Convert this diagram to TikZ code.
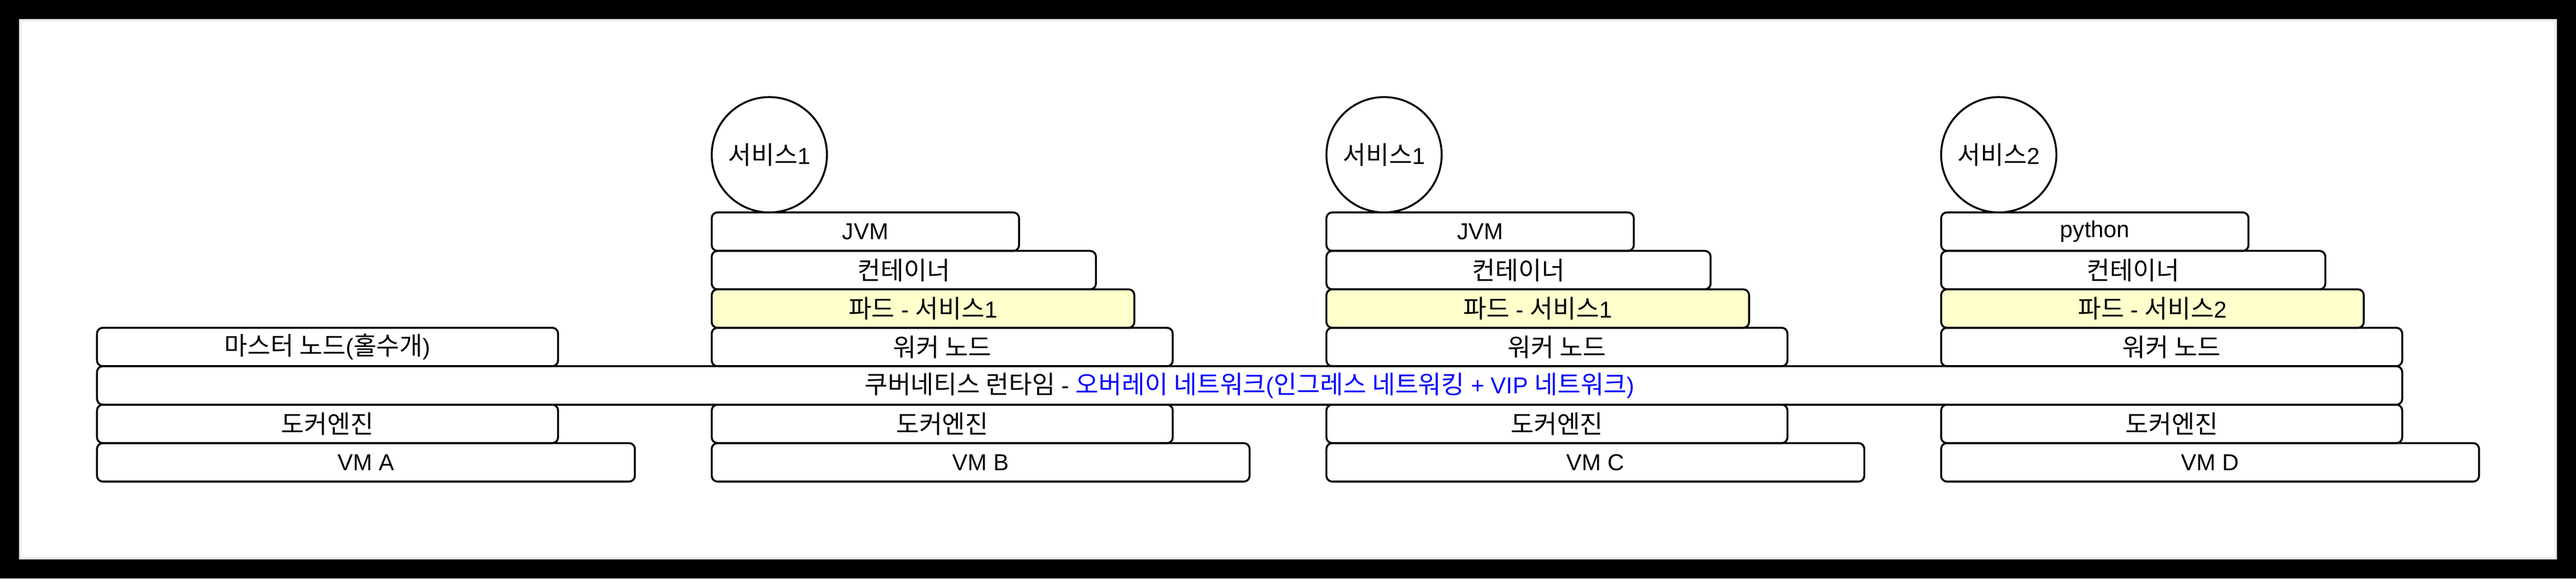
\documentclass[tikz,border=0pt]{standalone}
\usepackage{fontspec}
\setmainfont{Liberation Sans}
\newfontfamily\krfont[Scale=1.09]{Noto Sans CJK KR}
\newcommand\ko[1]{{\krfont #1}}
\definecolor{podfill}{HTML}{FFFFCC}
\definecolor{netblue}{HTML}{0000FF}
\definecolor{framegray}{HTML}{E6E6E6}

\begin{document}
\begin{tikzpicture}[x=0.4mm, y=-0.4mm,
  every node/.style={font=\fontsize{13.66pt}{16pt}\selectfont},
  layer/.style={draw, line width=0.4mm, rounded corners=1.2mm, anchor=north west,
    minimum height=8mm, inner sep=0pt, outer sep=0pt},
  pod/.style={layer, fill=podfill},
  svc/.style={draw, circle, line width=0.4mm, minimum size=24mm, inner sep=0pt, outer sep=0pt}]
  % frame
  \fill[black] (0,0) rectangle (1341,301);
  \fill[framegray] (10,10) rectangle (1331,291);
  \fill[white] (11,11) rectangle (1330,290);

  % master (A)
  \node[layer, minimum width=96mm] (master) at (50.5,170.5) {\ko{마스터 노드}(\ko{홀수개})};
  \node[layer, minimum width=96mm] (dka) at (50.5,210.5) {\ko{도커엔진}};
  \node[layer, minimum width=112mm] (vma) at (50.5,230.5) {VM A};

  % worker B
  \node[svc] (svcb) at (400.5,80.5) {\ko{서비스}1};
  \node[layer, minimum width=64mm] (jvmb) at (370.5,110.5) {JVM};
  \node[layer, minimum width=80mm] (ctb) at (370.5,130.5) {\ko{컨테이너}};
  \node[pod, minimum width=88mm] (podb) at (370.5,150.5) {\ko{파드} - \ko{서비스}1};
  \node[layer, minimum width=96mm] (wkb) at (370.5,170.5) {\ko{워커 노드}};
  \node[layer, minimum width=96mm] (dkb) at (370.5,210.5) {\ko{도커엔진}};
  \node[layer, minimum width=112mm] (vmb) at (370.5,230.5) {VM B};

  % worker C
  \node[svc] (svcc) at (720.5,80.5) {\ko{서비스}1};
  \node[layer, minimum width=64mm] (jvmc) at (690.5,110.5) {JVM};
  \node[layer, minimum width=80mm] (ctc) at (690.5,130.5) {\ko{컨테이너}};
  \node[pod, minimum width=88mm] (podc) at (690.5,150.5) {\ko{파드} - \ko{서비스}1};
  \node[layer, minimum width=96mm] (wkc) at (690.5,170.5) {\ko{워커 노드}};
  \node[layer, minimum width=96mm] (dkc) at (690.5,210.5) {\ko{도커엔진}};
  \node[layer, minimum width=112mm] (vmc) at (690.5,230.5) {VM C};

  % worker D
  \node[svc] (svcd) at (1040.5,80.5) {\ko{서비스}2};
  \node[layer, minimum width=64mm] (pyd) at (1010.5,110.5) {python};
  \node[layer, minimum width=80mm] (ctd) at (1010.5,130.5) {\ko{컨테이너}};
  \node[pod, minimum width=88mm] (podd) at (1010.5,150.5) {\ko{파드} - \ko{서비스}2};
  \node[layer, minimum width=96mm] (wkd) at (1010.5,170.5) {\ko{워커 노드}};
  \node[layer, minimum width=96mm] (dkd) at (1010.5,210.5) {\ko{도커엔진}};
  \node[layer, minimum width=112mm] (vmd) at (1010.5,230.5) {VM D};

  % runtime across all
  \node[layer, minimum width=480mm] (kube) at (50.5,190.5) {\ko{쿠버네티스 런타임} - \textcolor{netblue}{\ko{오버레이 네트워크}(\ko{인그레스 네트워킹} + VIP \ko{네트워크})}};
\end{tikzpicture}
\end{document}
